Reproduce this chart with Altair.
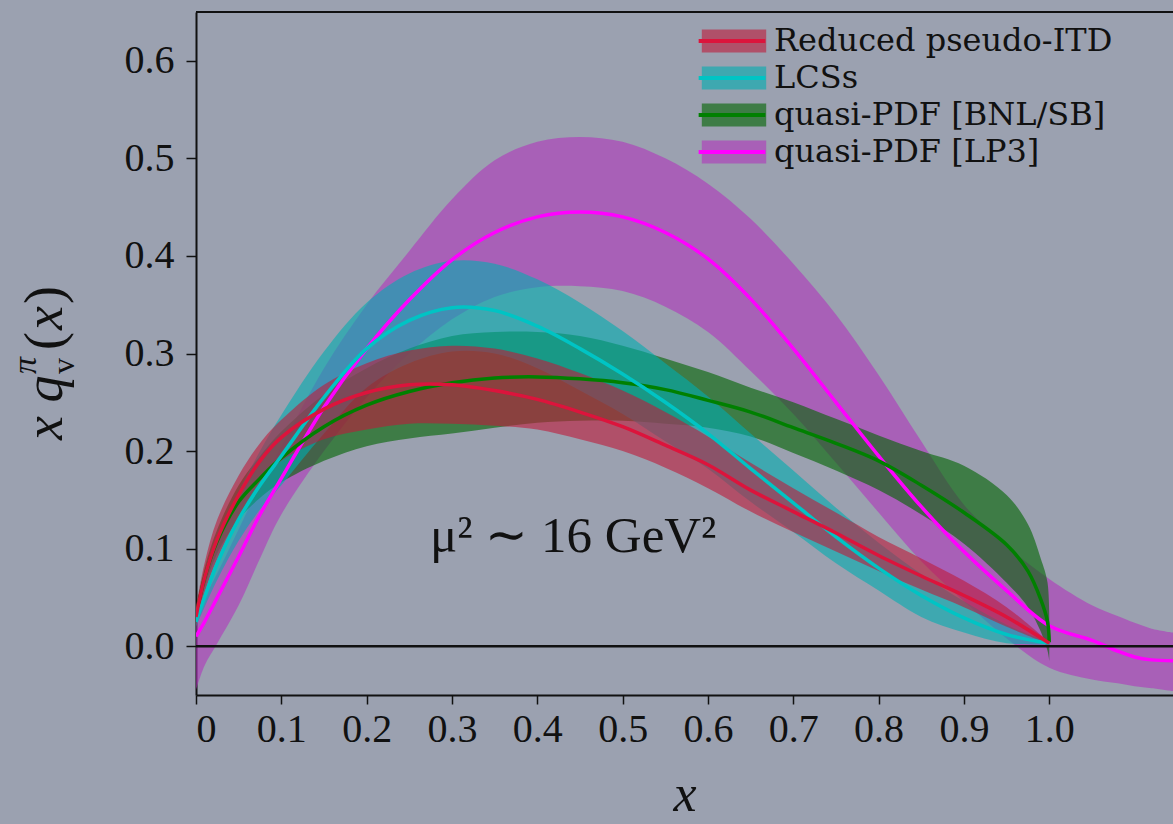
import altair as alt
import pandas as pd

# ---------------- data ----------------
SERIES = ["Reduced pseudo-ITD", "LCSs", "quasi-PDF [BNL/SB]", "quasi-PDF [LP3]"]
BAND_COLORS = ["rgba(190,26,59,0.6)", "rgba(0,173,176,0.6)",
               "rgba(0,100,0,0.6)", "rgba(177,53,189,0.6)"]
LINE_COLORS = ["#dc143c", "#00c4c4", "#008000", "#ff00ff"]

X_STD = [0, 0.01, 0.025, 0.05, 0.075, 0.1, 0.15, 0.2, 0.25, 0.3, 0.35, 0.4, 0.45,
         0.5, 0.55, 0.6, 0.65, 0.7, 0.75, 0.8, 0.85, 0.9, 0.95, 1.0]

# Reduced pseudo-ITD
itd_y = [0.03, 0.07, 0.11, 0.155, 0.19, 0.214, 0.243, 0.26, 0.268, 0.268, 0.262, 0.253, 0.24,
         0.225, 0.206, 0.186, 0.16, 0.138, 0.116, 0.093, 0.072, 0.052, 0.03, 0.003]
itd_hi = [0.04, 0.085, 0.13, 0.175, 0.208, 0.232, 0.268, 0.29, 0.303, 0.308, 0.305, 0.295, 0.28,
          0.262, 0.24, 0.215, 0.188, 0.162, 0.137, 0.112, 0.09, 0.067, 0.04, 0.004]
itd_lo = [0.02, 0.055, 0.09, 0.133, 0.168, 0.19, 0.212, 0.222, 0.228, 0.228, 0.226, 0.222, 0.212,
          0.2, 0.183, 0.162, 0.138, 0.117, 0.097, 0.077, 0.058, 0.04, 0.02, 0.002]

# LCSs
lcs_y = [0.025, 0.05, 0.085, 0.13, 0.165, 0.195, 0.255, 0.305, 0.334, 0.347, 0.344, 0.328, 0.305,
         0.279, 0.25, 0.218, 0.182, 0.147, 0.112, 0.08, 0.052, 0.029, 0.012, 0.003]
lcs_hi = [0.03, 0.062, 0.105, 0.158, 0.2, 0.237, 0.302, 0.352, 0.382, 0.395, 0.392, 0.376, 0.352,
          0.323, 0.29, 0.256, 0.218, 0.18, 0.142, 0.106, 0.074, 0.046, 0.022, 0.004]
lcs_lo = [0.02, 0.04, 0.068, 0.108, 0.14, 0.165, 0.218, 0.265, 0.29, 0.302, 0.3, 0.285, 0.262,
          0.238, 0.21, 0.182, 0.148, 0.117, 0.085, 0.057, 0.03, 0.014, 0.003, 0.002]

# quasi-PDF [BNL/SB]
X_BNL = [0, 0.01, 0.025, 0.05, 0.075, 0.1, 0.15, 0.2, 0.25, 0.3, 0.35, 0.4, 0.45,
         0.5, 0.55, 0.6, 0.65, 0.7, 0.75, 0.8, 0.85, 0.9, 0.95, 0.975, 0.99, 0.998, 1.0]
bnl_y = [0.03, 0.07, 0.108, 0.148, 0.172, 0.193, 0.225, 0.247, 0.261, 0.27, 0.275, 0.276, 0.274,
         0.27, 0.263, 0.252, 0.24, 0.224, 0.208, 0.19, 0.165, 0.137, 0.104, 0.077, 0.048, 0.025, 0.004]
bnl_hi = [0.035, 0.08, 0.12, 0.165, 0.195, 0.22, 0.258, 0.285, 0.305, 0.318, 0.322, 0.322, 0.318,
          0.308, 0.295, 0.281, 0.265, 0.25, 0.233, 0.216, 0.2, 0.185, 0.155, 0.125, 0.09, 0.065, 0.01]
bnl_lo = [0.025, 0.06, 0.095, 0.13, 0.152, 0.168, 0.19, 0.205, 0.213, 0.218, 0.224, 0.229, 0.231,
          0.231, 0.228, 0.224, 0.215, 0.198, 0.18, 0.16, 0.135, 0.105, 0.065, 0.04, 0.015, -0.005, -0.015]

# quasi-PDF [LP3]
X_LP3 = [0, 0.01, 0.025, 0.05, 0.075, 0.1, 0.15, 0.2, 0.25, 0.3, 0.35, 0.4, 0.45,
         0.5, 0.55, 0.6, 0.65, 0.7, 0.75, 0.8, 0.85, 0.9, 0.95, 1.0, 1.05, 1.08, 1.1, 1.12, 1.145]
lp3_y = [0.01, 0.025, 0.05, 0.092, 0.135, 0.172, 0.245, 0.305, 0.355, 0.396, 0.424, 0.44, 0.445,
         0.44, 0.424, 0.397, 0.356, 0.305, 0.25, 0.195, 0.143, 0.097, 0.057, 0.021, 0.006, -0.005,
         -0.011, -0.014, -0.015]
lp3_hi = [0.035, 0.05, 0.075, 0.12, 0.165, 0.205, 0.285, 0.35, 0.405, 0.458, 0.498, 0.517, 0.522,
          0.517, 0.5, 0.474, 0.438, 0.392, 0.34, 0.278, 0.21, 0.145, 0.103, 0.069, 0.042, 0.031,
          0.024, 0.018, 0.014]
lp3_lo = [-0.045, -0.02, 0.003, 0.042, 0.09, 0.135, 0.2, 0.255, 0.3, 0.335, 0.358, 0.368, 0.369,
          0.364, 0.348, 0.322, 0.282, 0.238, 0.188, 0.137, 0.087, 0.046, 0.008, -0.022, -0.034,
          -0.038, -0.041, -0.043, -0.046]

X_TICKS = [0, 0.1, 0.2, 0.3, 0.4, 0.5, 0.6, 0.7, 0.8, 0.9, 1.0]
Y_TICKS = [0, 0.1, 0.2, 0.3, 0.4, 0.5, 0.6]
X_DOMAIN = [0, 1.145]
Y_DOMAIN = [-0.05, 0.65]
ANNOT_X = [0.442]
ANNOT_Y = [0.112]
ANNOT_TEXT = ["\u03bc\u00b2 \u223c 16 GeV\u00b2"]

# ---------------- build table ----------------
LINE_KEYS = [s + " " for s in SERIES]   # distinct domain so line legend stays separate
rows = []
for k, (xs, ys, his, los) in enumerate([
    (X_STD, itd_y, itd_hi, itd_lo),
    (X_STD, lcs_y, lcs_hi, lcs_lo),
    (X_BNL, bnl_y, bnl_hi, bnl_lo),
    (X_LP3, lp3_y, lp3_hi, lp3_lo),
]):
    for i, xv in enumerate(xs):
        rows.append({"series": SERIES[k], "lseries": LINE_KEYS[k], "x": xv, "y": ys[i],
                     "hi": his[i], "lo": los[i], "order": i})
df = pd.DataFrame(rows)

BG = "#9ba1b0"
SERIF = "Liberation Serif"
INTERP = "catmull-rom"

xscale = alt.Scale(domain=X_DOMAIN, nice=False, zero=False)
yscale = alt.Scale(domain=Y_DOMAIN, nice=False, zero=False)

xaxis = alt.Axis(values=X_TICKS,
                 labelExpr="datum.value == 0 ? '0' : format(datum.value, '.1f')",
                 labelFont=SERIF, labelFontSize=40, labelColor="#111",
                 labelPadding=5, tickSize=9, tickWidth=1.5, tickColor="#111",
                 domainColor="#111", domainWidth=2, grid=False,
                 title="x", titleFont=SERIF, titleFontStyle="italic",
                 titleFontWeight="normal", titleFontSize=52, titleColor="#111",
                 titlePadding=20)
yaxis = alt.Axis(values=Y_TICKS, format=".1f",
                 labelFont=SERIF, labelFontSize=40, labelColor="#111",
                 labelPadding=12, tickSize=10, tickWidth=1.5, tickColor="#111",
                 domainColor="#111", domainWidth=2, grid=False, title=None)

fill_scale = alt.Scale(domain=SERIES, range=BAND_COLORS)
stroke_scale = alt.Scale(domain=LINE_KEYS, range=LINE_COLORS)

LEG_X = 522
LEG_Y = 13
fill_legend = alt.Legend(title=None, orient="none", legendX=LEG_X, legendY=LEG_Y,
                         symbolType="M-2.8,-1H2.8V1H-2.8Z", symbolSize=529,
                         symbolStrokeWidth=0, symbolOpacity=1,
                         labelFont="DejaVu Serif", labelFontSize=32, labelColor="#111",
                         labelLimit=600, labelOffset=24, rowPadding=5, padding=0)
stroke_legend = alt.Legend(title=None, orient="none", legendX=LEG_X, legendY=LEG_Y,
                           symbolType="M-2.9,0H2.9", symbolSize=529,
                           symbolStrokeWidth=4, symbolOffset=-2,
                           labelFont="DejaVu Serif", labelFontSize=32, labelColor="#111",
                           labelExpr="''", labelLimit=600, labelOffset=20,
                           rowPadding=5, padding=0)

base = alt.Chart(df)
draw_order = [3, 2, 1, 0]

bands = [
    base.transform_filter(alt.datum.series == SERIES[k]).mark_area(interpolate=INTERP, clip=True).encode(
        x=alt.X("x:Q", scale=xscale, axis=xaxis),
        y=alt.Y("lo:Q", scale=yscale, axis=yaxis),
        y2="hi:Q",
        fill=alt.Fill("series:N", scale=fill_scale, legend=fill_legend),
    )
    for k in draw_order
]
lines = [
    base.transform_filter(alt.datum.series == SERIES[k]).mark_line(interpolate=INTERP, strokeWidth=3.5, clip=True).encode(
        x=alt.X("x:Q", scale=xscale),
        y=alt.Y("y:Q", scale=yscale),
        stroke=alt.Stroke("lseries:N", scale=stroke_scale, legend=stroke_legend),
        order="order:Q",
    )
    for k in draw_order
]

zero_rule = alt.Chart(pd.DataFrame({"y": [0.0]})).mark_rule(color="#111", strokeWidth=2.5).encode(
    y=alt.Y("y:Q", scale=yscale))
top_rule = alt.Chart(pd.DataFrame({"y": [Y_DOMAIN[1]]})).mark_rule(color="#111", strokeWidth=2).encode(
    y=alt.Y("y:Q", scale=yscale))

annot = alt.Chart(pd.DataFrame({"x": ANNOT_X, "y": ANNOT_Y, "t": ANNOT_TEXT})).mark_text(
    font=SERIF, fontSize=51, color="#111", align="center", baseline="middle").encode(
    x=alt.X("x:Q", scale=xscale), y=alt.Y("y:Q", scale=yscale), text="t:N")

one = pd.DataFrame({"a": [0]})
def ytitle_piece(txt, px, py, size, style="italic"):
    return alt.Chart(one).mark_text(font=SERIF, fontSize=size, fontStyle=style, color="#111",
                                    angle=270, align="left", baseline="alphabetic").encode(
        x=alt.value(px), y=alt.value(py), text=alt.value(txt))

ytitle = [
    ytitle_piece("x q", -134, 428, 54),
    ytitle_piece("\u03c0", -160, 362, 34),
    ytitle_piece("v", -122, 362, 32, "normal"),
    ytitle_piece("(", -134, 338, 54, "normal"),
    ytitle_piece("x", -134, 318, 54),
    ytitle_piece(")", -134, 292, 54, "normal"),
]

chart = alt.layer(*bands, *lines, zero_rule, top_rule, annot, *ytitle).resolve_scale(
    fill="shared", stroke="shared"
).properties(
    width=977, height=683,
    padding={"left": 196, "top": 12, "right": 0, "bottom": 129},
    autosize=alt.AutoSizeParams(type="none"),
    background=BG,
).configure_view(stroke=None)

chart.save("out.html", embed_options={"renderer": "svg", "actions": False})
